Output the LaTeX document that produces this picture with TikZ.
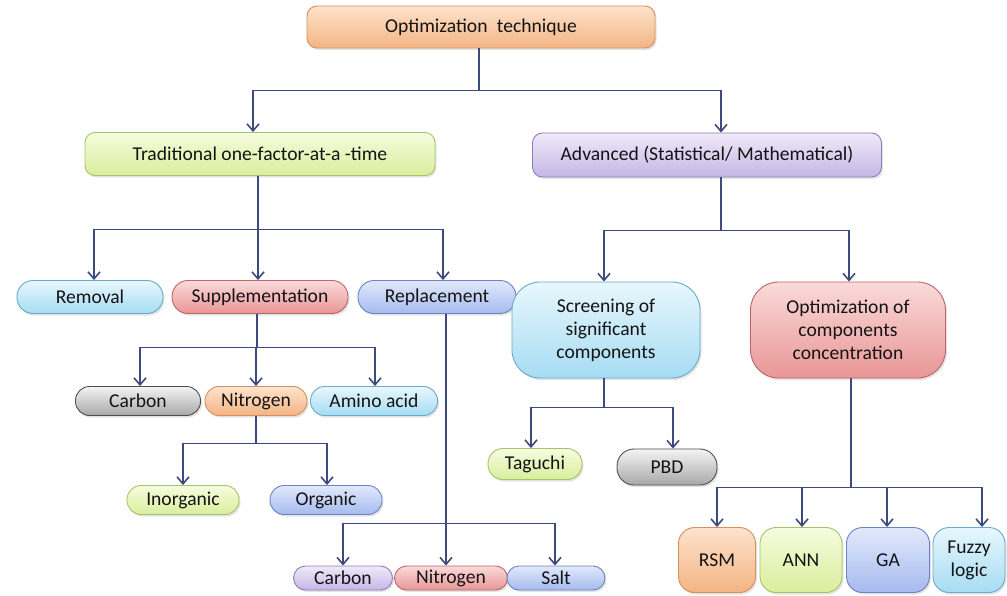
\documentclass[tikz,border=0pt]{standalone}
\usepackage{fontspec}
\setmainfont{Carlito}
\usetikzlibrary{arrows.meta,shadows}
\definecolor{ln}{HTML}{3C4A7C}
\definecolor{orT}{HTML}{FDE3CC}\definecolor{orB}{HTML}{F4B483}\definecolor{orD}{HTML}{D49060}
\definecolor{grT}{HTML}{F6FCDF}\definecolor{grB}{HTML}{D9EE9C}\definecolor{grD}{HTML}{A6C26A}
\definecolor{puT}{HTML}{EFEAF8}\definecolor{puB}{HTML}{C6B6E6}\definecolor{puD}{HTML}{8E7EB8}
\definecolor{lbT}{HTML}{E8F7FD}\definecolor{lbB}{HTML}{A6DCF3}\definecolor{lbD}{HTML}{6AAAC8}
\definecolor{rdT}{HTML}{FADADA}\definecolor{rdB}{HTML}{E99696}\definecolor{rdD}{HTML}{BE6464}
\definecolor{blT}{HTML}{E1E9FB}\definecolor{blB}{HTML}{A6BAEF}\definecolor{blD}{HTML}{6C82C2}
\definecolor{gyT}{HTML}{F4F4F4}\definecolor{gyB}{HTML}{A8A8A8}\definecolor{gyD}{HTML}{4E4E4E}
\begin{document}
\begin{tikzpicture}[x=1pt,y=-1pt,
  box/.style={draw, line width=0.9pt, inner sep=0pt, align=center,
    font=\fontsize{19.6}{23}\selectfont, text=black!92,
    drop shadow={shadow xshift=1.5pt,shadow yshift=-2pt,opacity=0.22}},
  orangebox/.style={box, draw=orD, top color=orT, bottom color=orB},
  greenbox/.style={box, draw=grD, top color=grT, bottom color=grB},
  purplebox/.style={box, draw=puD, top color=puT, bottom color=puB},
  lbluebox/.style={box, draw=lbD, top color=lbT, bottom color=lbB},
  redbox/.style={box, draw=rdD, top color=rdT, bottom color=rdB},
  bluebox/.style={box, draw=blD, top color=blT, bottom color=blB},
  graybox/.style={box, draw=gyD, top color=gyT, bottom color=gyB},
  wide/.style={minimum width=#1, rounded corners=10pt},
  pillA/.style={minimum width=#1, minimum height=33pt, rounded corners=16pt},
  pillB/.style={minimum width=#1, minimum height=29pt, rounded corners=14pt},
  pillC/.style={minimum width=#1, minimum height=24pt, rounded corners=12pt},
  conn/.style={draw=ln, line width=1.6pt},
  arr/.style={conn, -{Straight Barb[length=7pt,width=12pt]}}]
\useasboundingbox (0,0) rectangle (1007,596);

% nodes
\node[orangebox, wide=348pt, minimum height=42pt] (top) at (481,27) {Optimization\hspace{0.25em} technique};
\node[greenbox, wide=350pt, minimum height=43pt] (trad) at (260,154) {Traditional one-factor-at-a -time};
\node[purplebox, wide=349pt, minimum height=44pt] (adv) at (707,155) {Advanced (Statistical/ Mathematical)};

\node[lbluebox, pillA=146pt] (removal) at (90,297) {Removal};
\node[redbox, pillA=176pt] (supp) at (260,297) {Supplementation};
\node[bluebox, pillA=158pt] (repl) at (437,297) {Replacement};

\node[graybox, pillB=125pt] (carbonA) at (138,401) {Carbon};
\node[orangebox, pillB=102pt] (nitroA) at (256,401) {Nitrogen};
\node[lbluebox, pillB=127pt] (amino) at (374,401) {Amino acid};

\node[greenbox, pillB=112pt] (inorg) at (183,500) {Inorganic};
\node[bluebox, pillB=112pt] (org) at (326,500) {Organic};

\node[purplebox, pillC=99pt] (carbonB) at (343,578) {Carbon};
\node[redbox, pillC=113pt] (nitroB) at (451,578) {Nitrogen};
\node[bluebox, pillC=98pt] (salt) at (556,578) {Salt};

\node[lbluebox, minimum width=188pt, minimum height=96pt, rounded corners=28pt] (screen) at (606,330) {Screening of\\significant\\components};
\node[redbox, minimum width=195pt, minimum height=96pt, rounded corners=28pt] (optim) at (848,330) {Optimization of\\components\\concentration};

\node[greenbox, minimum width=94pt, minimum height=31pt, rounded corners=15pt] (taguchi) at (535,464) {Taguchi};
\node[graybox, minimum width=100pt, minimum height=36pt, rounded corners=17pt] (pbd) at (667,467) {PBD};

\node[orangebox, minimum width=77pt, minimum height=65pt, rounded corners=16pt] (rsm) at (717,560) {RSM};
\node[greenbox, minimum width=82pt, minimum height=65pt, rounded corners=16pt] (ann) at (801,560) {ANN};
\node[bluebox, minimum width=83pt, minimum height=65pt, rounded corners=16pt] (ga) at (888,560) {GA};
\node[lbluebox, minimum width=72pt, minimum height=65pt, rounded corners=16pt] (fuzzy) at (969,560) {Fuzzy\\logic};

% connectors
\draw[arr] ([xshift=-2pt]top.south) -- ++(0,42) -| ([xshift=-7pt]trad.north);
\draw[arr] ([xshift=-2pt]top.south) -- ++(0,42) -| ([xshift=14pt]adv.north);

\draw[arr] ([xshift=-2pt]trad.south) -- ++(0,53.5) -| ([xshift=4pt]removal.north);
\draw[arr] ([xshift=-2pt]trad.south) -- ([xshift=-2pt]supp.north);
\draw[arr] ([xshift=-2pt]trad.south) -- ++(0,53.5) -| ([xshift=6pt]repl.north);

\draw[arr] ([xshift=-3pt]supp.south) -- ++(0,33.5) -| ([xshift=2pt]carbonA.north);
\draw[arr] ([xshift=-3pt]supp.south) -- ++(0,33.5) -| (nitroA.north);
\draw[arr] ([xshift=-3pt]supp.south) -- ++(0,33.5) -| ([xshift=1pt]amino.north);

\draw[arr] (nitroA.south) -- ++(0,27.5) -| (inorg.north);
\draw[arr] (nitroA.south) -- ++(0,27.5) -| ([xshift=1pt]org.north);

\draw[arr] ([xshift=9pt]repl.south) -- ++(0,209.5) -| (carbonB.north);
\draw[arr] ([xshift=9pt]repl.south) -- ++(0,209.5) -| ([xshift=-5pt]nitroB.north);
\draw[arr] ([xshift=9pt]repl.south) -- ++(0,209.5) -| ([xshift=-1pt]salt.north);

\draw[arr] ([xshift=14pt]adv.south) -- ++(0,53) -| ([xshift=-2pt]screen.north);
\draw[arr] ([xshift=14pt]adv.south) -- ++(0,53) -| ([xshift=1pt]optim.north);

\draw[arr] ([xshift=-2pt]screen.south) -- ++(0,29) -| ([xshift=-4pt]taguchi.north);
\draw[arr] ([xshift=-2pt]screen.south) -- ++(0,29) -| ([xshift=6pt]pbd.north);

\draw[arr] ([xshift=3pt]optim.south) -- ++(0,109) -| (rsm.north);
\draw[arr] ([xshift=3pt]optim.south) -- ++(0,109) -| ([xshift=1pt]ann.north);
\draw[arr] ([xshift=3pt]optim.south) -- ++(0,109) -| ([xshift=-1pt]ga.north);
\draw[arr] ([xshift=3pt]optim.south) -- ++(0,109) -| ([xshift=13pt]fuzzy.north);
\end{tikzpicture}
\end{document}
